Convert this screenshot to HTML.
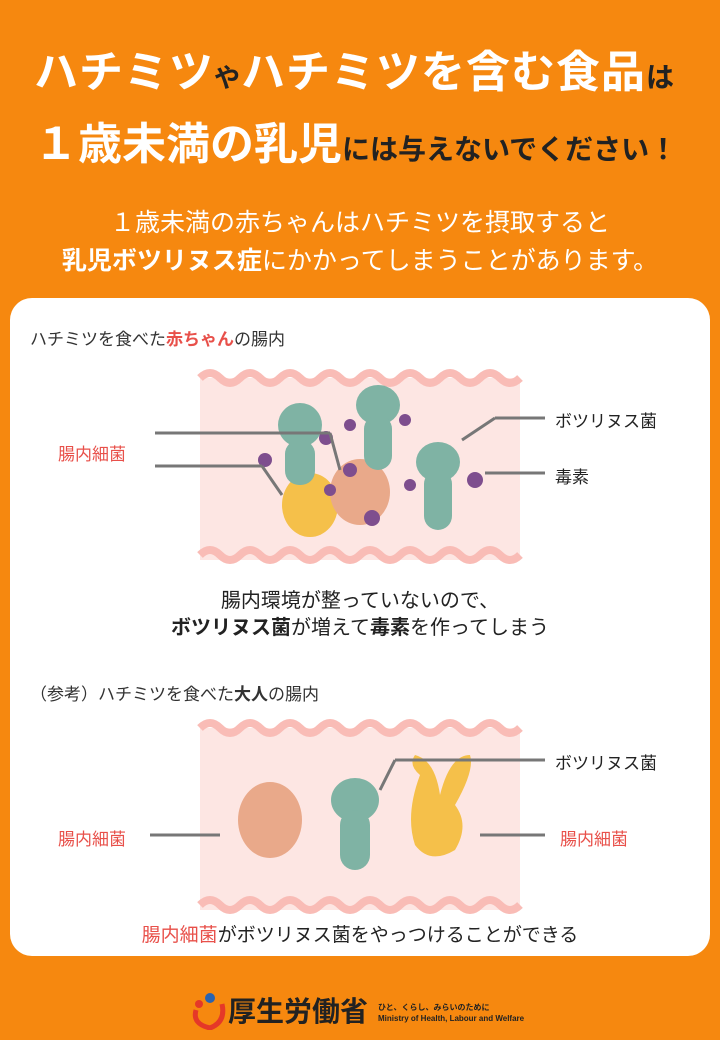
<!DOCTYPE html>
<html><head><meta charset="utf-8"><style>
*{margin:0;padding:0;box-sizing:border-box}
body{width:720px;height:1040px;background:#f6880f;position:relative;overflow:hidden;font-family:"Liberation Sans","Noto Sans CJK JP",sans-serif}
.t{position:absolute;white-space:nowrap}
.card{position:absolute;left:10px;top:298px;width:700px;height:658px;background:#fff;border-radius:22px}
.red{color:#e8504a}
</style></head><body>
<div class="t" style="left:34px;top:36px;font-size:44px;font-weight:bold;color:#fff;letter-spacing:1px">ハチミツ<span style="font-size:26px;color:#222">や</span>ハチミツを含む食品<span style="font-size:28px;color:#222">は</span></div>
<div class="t" style="left:34px;top:108px;font-size:44px;font-weight:bold;color:#fff">１歳未満の乳児<span style="font-size:28px;color:#222">には与えないでください！</span></div>
<div class="t" style="left:0;width:720px;text-align:center;top:203px;font-size:25px;color:#fff">１歳未満の赤ちゃんはハチミツを摂取すると</div>
<div class="t" style="left:0;width:720px;text-align:center;top:241px;font-size:25px;color:#fff"><b>乳児ボツリヌス症</b>にかかってしまうことがあります。</div>
<div class="card"></div>
<div class="t" style="left:30px;top:325px;font-size:17px;color:#333">ハチミツを食べた<b class="red">赤ちゃん</b>の腸内</div>
<svg style="position:absolute;left:0;top:0" width="720" height="1040">
<g>
<rect x="200" y="378" width="320" height="182" fill="#fde6e3"/>
<path d="M200 378 q10 -10 20 0 t20 0 t20 0 t20 0 t20 0 t20 0 t20 0 t20 0 t20 0 t20 0 t20 0 t20 0 t20 0 t20 0 t20 0 t20 0" fill="none" stroke="#f9bcb6" stroke-width="8"/>
<path d="M200 555 q10 -10 20 0 t20 0 t20 0 t20 0 t20 0 t20 0 t20 0 t20 0 t20 0 t20 0 t20 0 t20 0 t20 0 t20 0 t20 0 t20 0" fill="none" stroke="#f9bcb6" stroke-width="8"/>
<rect x="200" y="728" width="320" height="182" fill="#fde6e3"/>
<path d="M200 728 q10 -10 20 0 t20 0 t20 0 t20 0 t20 0 t20 0 t20 0 t20 0 t20 0 t20 0 t20 0 t20 0 t20 0 t20 0 t20 0 t20 0" fill="none" stroke="#f9bcb6" stroke-width="8"/>
<path d="M200 905 q10 -10 20 0 t20 0 t20 0 t20 0 t20 0 t20 0 t20 0 t20 0 t20 0 t20 0 t20 0 t20 0 t20 0 t20 0 t20 0 t20 0" fill="none" stroke="#f9bcb6" stroke-width="8"/>
</g>
<ellipse cx="310" cy="505" rx="28" ry="32" fill="#f5c04a"/>
<ellipse cx="300" cy="425" rx="22" ry="22" fill="#7fb3a4"/>
<rect x="285" y="440" width="30" height="45" rx="14" fill="#7fb3a4"/>
<ellipse cx="360" cy="492" rx="30" ry="33" fill="#e9a98a"/>
<ellipse cx="378" cy="405" rx="22" ry="20" fill="#7fb3a4"/>
<rect x="364" y="415" width="28" height="55" rx="14" fill="#7fb3a4"/>
<ellipse cx="438" cy="462" rx="22" ry="20" fill="#7fb3a4"/>
<rect x="424" y="470" width="28" height="60" rx="14" fill="#7fb3a4"/>
<g fill="#7e4e8e"><circle cx="265" cy="460" r="7"/><circle cx="326" cy="438" r="7"/><circle cx="350" cy="425" r="6"/><circle cx="405" cy="420" r="6"/><circle cx="350" cy="470" r="7"/><circle cx="410" cy="485" r="6"/><circle cx="372" cy="518" r="8"/><circle cx="475" cy="480" r="8"/><circle cx="330" cy="490" r="6"/></g>
<g stroke="#777" stroke-width="3" fill="none">
<line x1="155" y1="433" x2="330" y2="433"/><line x1="330" y1="433" x2="340" y2="470"/>
<line x1="155" y1="466" x2="262" y2="466"/><line x1="262" y1="466" x2="282" y2="495"/>
<line x1="545" y1="418" x2="495" y2="418"/><line x1="495" y1="418" x2="462" y2="440"/>
<line x1="545" y1="473" x2="485" y2="473"/>
</g>
<ellipse cx="270" cy="820" rx="32" ry="38" fill="#e9a98a"/>
<ellipse cx="355" cy="800" rx="24" ry="22" fill="#7fb3a4"/>
<rect x="340" y="810" width="30" height="60" rx="15" fill="#7fb3a4"/>
<path d="M420 775 q-12 -10 -5 -20 q20 5 25 40 q10 -40 30 -40 q5 15 -15 50 q15 20 0 45 q-25 15 -40 -5 q-10 -30 5 -70z" fill="#f5c04a"/>
<g stroke="#777" stroke-width="3" fill="none">
<line x1="150" y1="835" x2="220" y2="835"/>
<line x1="545" y1="760" x2="395" y2="760"/><line x1="395" y1="760" x2="380" y2="790"/>
<line x1="480" y1="835" x2="545" y2="835"/>
</g>
</svg>
<div class="t red" style="left:58px;top:440px;font-size:17px">腸内細菌</div>
<div class="t" style="left:555px;top:407px;font-size:17px;color:#222">ボツリヌス菌</div>
<div class="t" style="left:555px;top:463px;font-size:17px;color:#222">毒素</div>
<div class="t" style="left:0;width:720px;text-align:center;top:584px;font-size:20px;color:#222">腸内環境が整っていないので、</div>
<div class="t" style="left:0;width:720px;text-align:center;top:611px;font-size:20px;color:#222"><b>ボツリヌス菌</b>が増えて<b>毒素</b>を作ってしまう</div>
<div class="t" style="left:30px;top:680px;font-size:17px;color:#333">（参考）ハチミツを食べた<b>大人</b>の腸内</div>
<div class="t" style="left:555px;top:749px;font-size:17px;color:#222">ボツリヌス菌</div>
<div class="t red" style="left:58px;top:825px;font-size:17px">腸内細菌</div>
<div class="t red" style="left:560px;top:825px;font-size:17px">腸内細菌</div>
<div class="t" style="left:0;width:720px;text-align:center;top:920px;font-size:19px;color:#222"><span class="red">腸内細菌</span>がボツリヌス菌をやっつけることができる</div>
<svg style="position:absolute;left:190px;top:990px" width="36" height="40"><circle cx="20" cy="8" r="5" fill="#2a63b0"/><circle cx="9" cy="14" r="4" fill="#e53828"/><path d="M6 20 q-4 14 14 18 q16 -6 12 -24" fill="none" stroke="#e53828" stroke-width="5"/></svg>
<div class="t" style="left:228px;top:990px;font-size:28px;font-weight:bold;color:#222">厚生労働省</div>
<div class="t" style="left:378px;top:1002px;font-size:8px;font-weight:bold;color:#222;line-height:11px">ひと、くらし、みらいのために<br>Ministry of Health, Labour and Welfare</div>
</body></html>
